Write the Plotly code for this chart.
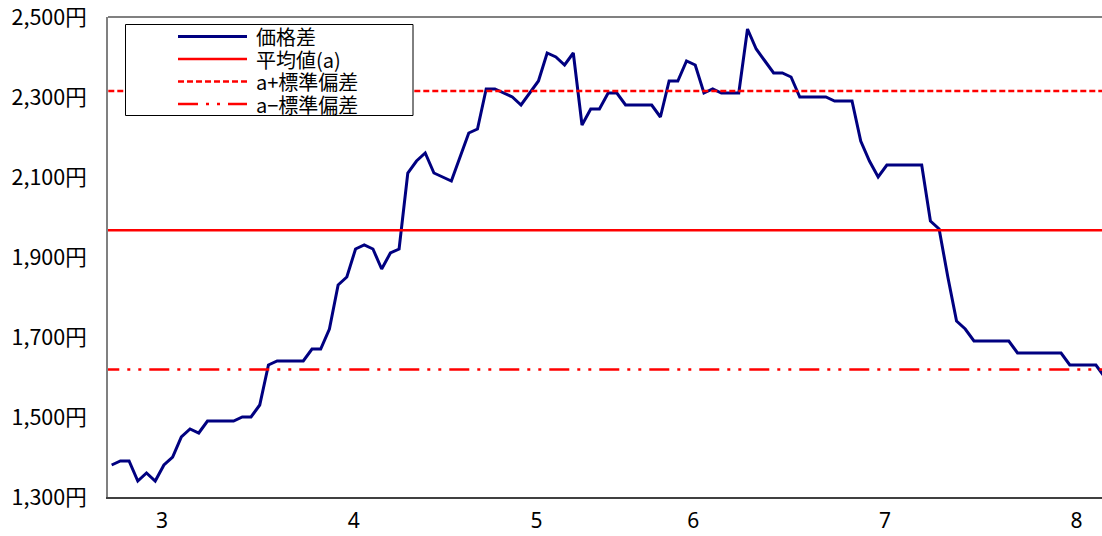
import plotly.graph_objects as go

# ---- data ----
price_diff = [
    1380, 1390, 1390, 1340, 1360, 1340, 1380, 1400, 1450, 1470,
    1460, 1490, 1490, 1490, 1490, 1500, 1500, 1530, 1630, 1640,
    1640, 1640, 1640, 1670, 1670, 1720, 1830, 1850, 1920, 1930,
    1920, 1870, 1910, 1920, 2110, 2140, 2160, 2110, 2100, 2090,
    2150, 2210, 2220, 2320, 2320, 2310, 2300, 2280, 2310, 2340,
    2410, 2400, 2380, 2410, 2230, 2270, 2270, 2310, 2310, 2280,
    2280, 2280, 2280, 2250, 2340, 2340, 2390, 2380, 2310, 2320,
    2310, 2310, 2310, 2470, 2420, 2390, 2360, 2360, 2350, 2300,
    2300, 2300, 2300, 2290, 2290, 2290, 2190, 2140, 2100, 2130,
    2130, 2130, 2130, 2130, 1990, 1970, 1850, 1740, 1720, 1690,
    1690, 1690, 1690, 1690, 1660, 1660, 1660, 1660, 1660, 1660,
    1630, 1630, 1630, 1630, 1600,
]
mean_value = 1967
std_value = 348

month_labels = ["3", "4", "5", "6", "7", "8"]
month_start_index = [5, 27, 48, 66, 88, 110]

y_ticks = [1300, 1500, 1700, 1900, 2100, 2300, 2500]

series_names = ["価格差", "平均値(a)", "a+標準偏差", "a−標準偏差"]

# ---- styling ----
NAVY = "#000080"
RED = "#FF0000"
FONT = "Noto Sans CJK JP"
DASH_UP = "6px,3px"
DASH_LOW = "20px,8px,3px,8px,3px,8px"

W, H = 1102, 536
ML, MR, MT, MB = 108, 0, 17, 39
PW, PH = W - ML - MR, H - MT - MB

x_idx = list(range(len(price_diff)))
x_range = [-0.42, 113.7]

fig = go.Figure()
fig.add_trace(go.Scatter(x=x_idx, y=price_diff, mode="lines", name=series_names[0],
                         line=dict(color=NAVY, width=3)))
xs = [x_range[0] - 1, x_range[1] + 2]
fig.add_trace(go.Scatter(x=xs, y=[mean_value] * 2, mode="lines", name=series_names[1],
                         line=dict(color=RED, width=2.5)))
fig.add_trace(go.Scatter(x=xs, y=[mean_value + std_value] * 2, mode="lines", name=series_names[2],
                         line=dict(color=RED, width=2.5, dash=DASH_UP)))
fig.add_trace(go.Scatter(x=xs, y=[mean_value - std_value] * 2, mode="lines", name=series_names[3],
                         line=dict(color=RED, width=2.5, dash=DASH_LOW)))


def px_x(p):
    return (p - ML) / PW


def px_y(p):
    return (H - MB - p) / PH


shapes = []
annotations = []
# top border of the plot area
shapes.append(dict(type="line", xref="paper", yref="paper", x0=0, x1=1, y0=1, y1=1,
                   line=dict(color="#808080", width=2)))
# legend box
shapes.append(dict(type="rect", xref="paper", yref="paper",
                   x0=px_x(125.5), x1=px_x(413), y0=px_y(24.5), y1=px_y(115.5),
                   line=dict(color="black", width=1), fillcolor="white", layer="above"))
legend_styles = [
    dict(color=NAVY, width=3),
    dict(color=RED, width=2.5),
    dict(color=RED, width=2.5, dash=DASH_UP),
    dict(color=RED, width=2.5, dash=DASH_LOW),
]
row_y = [36.5, 59, 81.5, 104]
for name, st, ry in zip(series_names, legend_styles, row_y):
    shapes.append(dict(type="line", xref="paper", yref="paper",
                       x0=px_x(178), x1=px_x(247), y0=px_y(ry), y1=px_y(ry),
                       line=st, layer="above"))
    annotations.append(dict(xref="paper", yref="paper", x=px_x(254), y=px_y(ry),
                            text=name, showarrow=False, xanchor="left", yanchor="middle",
                            font=dict(family=FONT, size=20, color="black")))

fig.update_layout(
    width=W, height=H, autosize=False,
    margin=dict(l=ML, r=MR, t=MT, b=MB, pad=0, autoexpand=False),
    paper_bgcolor="white", plot_bgcolor="white",
    showlegend=False,
    shapes=shapes, annotations=annotations,
    font=dict(family=FONT, color="black"),
    xaxis=dict(
        range=x_range, showgrid=False, zeroline=False, automargin=False,
        showline=True, linecolor="#404040", linewidth=2,
        tickvals=[i + 0.78 for i in month_start_index], ticktext=month_labels,
        ticks="", tickfont=dict(family="Noto Sans", size=21, color="black"),
        ticklabelstandoff=4, ticklabeloverflow="allow",
    ),
    yaxis=dict(
        range=[1300, 2500], showgrid=False, zeroline=False, automargin=False,
        showline=True, linecolor="#808080", linewidth=2,
        tickvals=y_ticks, ticktext=[f"{v:,}円" for v in y_ticks],
        ticks="", tickfont=dict(family=FONT, size=21.5, color="black"),
        ticklabelstandoff=15, ticklabeloverflow="allow",
    ),
)

fig.write_html(
    "out.html",
    config={"displayModeBar": False},
    post_script="document.body.style.margin='0';document.body.style.overflow='hidden';",
)
